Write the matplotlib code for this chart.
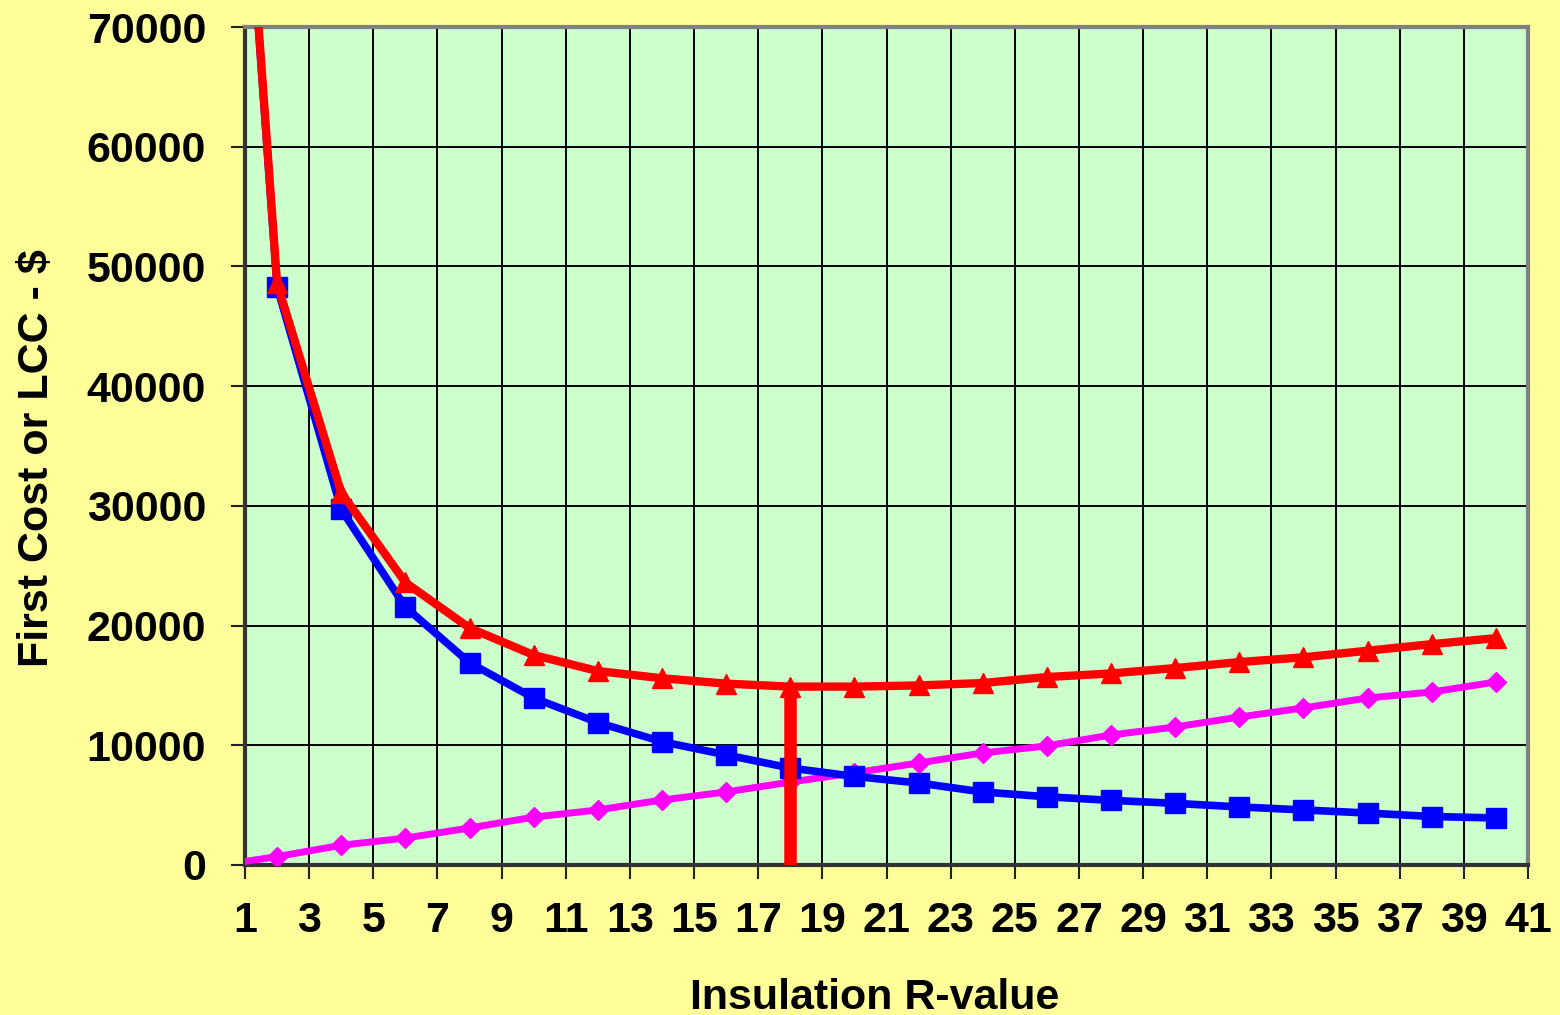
import numpy as np
import matplotlib.pyplot as plt

plt.rcParams['font.family'] = ['Liberation Sans', 'DejaVu Sans']
plt.rcParams['font.weight'] = 'bold'

# Insulation R-value, first cost, energy LCC and total LCC ($)
r_value = [1, 2, 4, 6, 8, 10, 12, 14, 16, 18, 20,
           22, 24, 26, 28, 30, 32, 34, 36, 38, 40]
energy_lcc = [85500, 48300, 29700, 21550, 16900, 13950, 11900, 10300, 9200, 8100, 7400,
              6850, 6100, 5700, 5400, 5150, 4850, 4600, 4340, 4050, 3930]
first_cost = [300, 700, 1650, 2250, 3090, 4000, 4600, 5430, 6100, 6930, 7700,
              8520, 9360, 9950, 10860, 11530, 12360, 13120, 13950, 14450, 15290]
total_lcc = [85800, 48600, 31100, 23600, 19800, 17540, 16200, 15600, 15150, 14900, 14900,
             15000, 15200, 15700, 16000, 16450, 16950, 17350, 17900, 18450, 18950]
optimum_r = 18

x_ticks = list(range(1, 42, 2))
y_ticks = list(range(0, 70001, 10000))

FS = 31

fig = plt.figure(figsize=(15.6, 10.15), dpi=100, facecolor='#FFFF99')
ax = fig.add_axes([245 / 1560, 1 - 865 / 1015, (1528 - 245) / 1560, (865 - 27) / 1015])
ax.set_facecolor('#CCFFCC')

ax.plot(r_value, first_cost, color='#FF00FF', lw=5, marker='D', ms=10.5,
        markevery=slice(1, None), zorder=3)
ax.plot(r_value, energy_lcc, color='#0000FF', lw=5.5, marker='s', ms=14,
        markevery=slice(1, None), zorder=4)
ax.plot(r_value, total_lcc, color='#FF0000', lw=6, marker='^', ms=15,
        markevery=slice(1, None), zorder=5)

# marker for the minimum total LCC
ax.vlines(optimum_r, 0, total_lcc[r_value.index(optimum_r)], color='#FF0000', lw=9, zorder=6)

ax.set_xlim(1, 41)
ax.set_ylim(0, 70000)
ax.set_xticks(x_ticks)
ax.set_yticks(y_ticks)
ax.set_xticklabels([str(v) for v in x_ticks], fontsize=FS, fontweight='bold')
ax.set_yticklabels([str(v) for v in y_ticks], fontsize=FS, fontweight='bold')
ax.tick_params(axis='both', direction='out', length=10, width=1.5, color='#222222')
ax.tick_params(axis='x', pad=16)
ax.tick_params(axis='y', pad=18)
ax.grid(True, color='black', lw=1.4)
ax.set_axisbelow(True)

for side in ['top', 'right']:
    ax.spines[side].set_color('#808080')
    ax.spines[side].set_linewidth(3)
for side in ['left', 'bottom']:
    ax.spines[side].set_color('#333333')
    ax.spines[side].set_linewidth(3)

fig.text(875 / 1560, 6 / 1015, 'Insulation R-value', fontsize=FS, fontweight='bold',
         ha='center', va='baseline')
fig.text(37 / 1560, 1 - 458 / 1015, 'First Cost or LCC - $', fontsize=FS, fontweight='bold',
         rotation=90, ha='center', va='center')

fig.savefig('out.png', dpi=100, facecolor=fig.get_facecolor())
